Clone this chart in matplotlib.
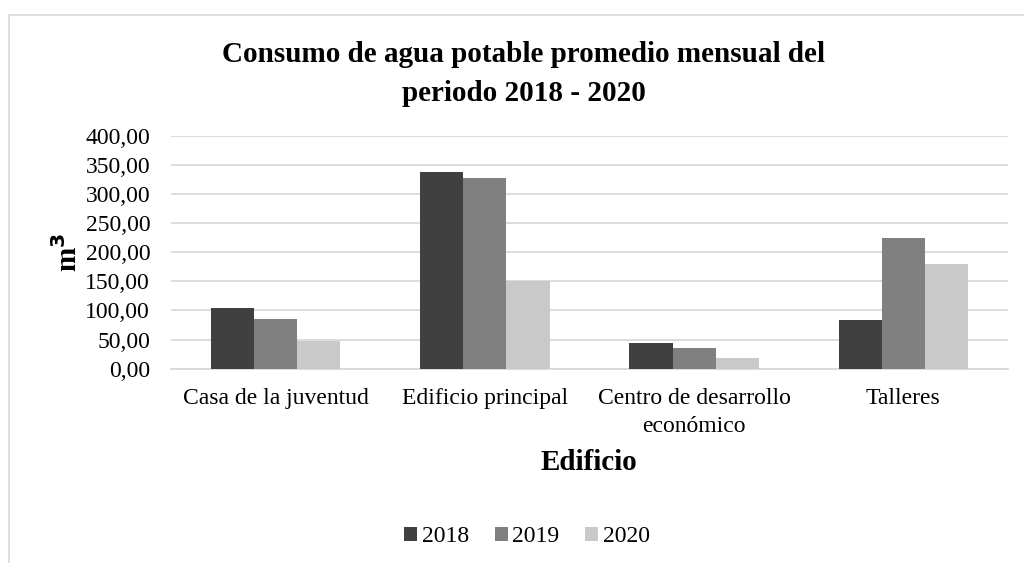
import matplotlib
matplotlib.use("Agg")
import matplotlib.pyplot as plt
from matplotlib.patches import Rectangle
import numpy as np

plt.rcParams['font.family'] = ['Liberation Serif', 'DejaVu Serif']

# data (m3)
edificios = ["Casa de la juventud", "Edificio principal",
             "Centro de desarrollo\necon\u00f3mico", "Talleres"]
anios = ["2018", "2019", "2020"]
consumo_2018 = [105, 338, 44, 83]
consumo_2019 = [85, 327, 36, 225]
consumo_2020 = [48, 151, 18, 180]
colores = ["#404040", "#808080", "#C9C9C9"]

series = [consumo_2018, consumo_2019, consumo_2020]

fig = plt.figure(figsize=(10.24, 5.63), dpi=100)
ax = fig.add_axes([171 / 1024, 1 - 368.7 / 563, (1008 - 171) / 1024, 233 / 563])

# light frame round the chart area (cropped on right/bottom like the source)
fig.patches.append(Rectangle((9 / 1024, -0.1), 1.2, 1 - 15 / 563 + 0.1,
                             transform=fig.transFigure, fill=False,
                             edgecolor="#D9D9D9", linewidth=1.2))

x = np.arange(len(edificios))
w = 0.206
for i, (vals, anio) in enumerate(zip(series, anios)):
    ax.bar(x + (i - 1) * w, vals, width=w, color=colores[i], label=anio, zorder=3)

ax.set_xlim(-0.5, len(edificios) - 0.5)
ax.set_ylim(0, 400)
ax.set_yticks(np.arange(0, 401, 50))
ax.set_yticklabels([f"{v:.2f}".replace(".", ",") for v in np.arange(0, 401, 50)])
ax.set_xticks(x)
ax.set_xticklabels(edificios, linespacing=1.45)
ax.tick_params(axis="both", length=0, labelsize=17)
ax.tick_params(axis="x", pad=14)
ax.tick_params(axis="y", pad=15)
ax.yaxis.grid(True, color="#D9D9D9", linewidth=1.3, zorder=0)
for s in ["top", "right", "left"]:
    ax.spines[s].set_visible(False)
ax.spines["bottom"].set_color("#D9D9D9")
ax.spines["bottom"].set_linewidth(1.3)

ax.set_ylabel("m$^{\\mathbf{3}}$", fontsize=21, fontweight="bold", labelpad=2)
fig.text(589 / 1024, 1 - 463 / 563, "Edificio", fontsize=21, fontweight="bold",
         ha="center", va="center")

fig.text(524 / 1024, 1 - 74 / 563,
         "Consumo de agua potable promedio mensual del\nperiodo 2018 - 2020",
         fontsize=21, fontweight="bold", ha="center", va="center", linespacing=1.55)

fig.legend(loc="center", bbox_to_anchor=(527 / 1024, 1 - 537 / 563), ncol=3,
           frameon=False, fontsize=17, handlelength=0.55, handleheight=0.55,
           handletextpad=0.2, columnspacing=1.1)

fig.savefig("out.png", dpi=100)
